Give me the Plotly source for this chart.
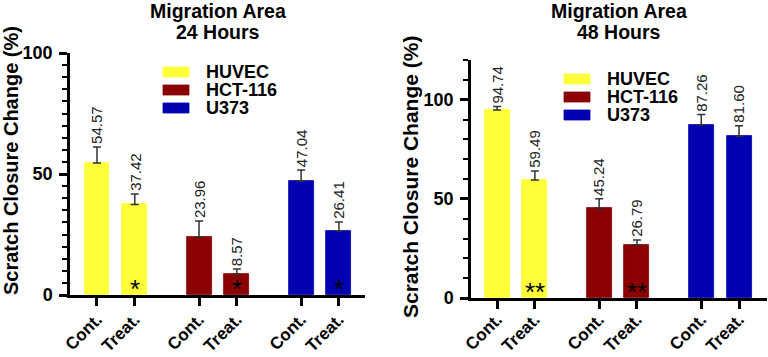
import plotly.graph_objects as go

# ---- data ----
tick_labels = ["Cont.", "Treat.", "Cont.", "Treat.", "Cont.", "Treat."]
cell_lines = ["HUVEC", "HCT-116", "U373"]
colors = ["#FFFF3A", "#8B0000", "#0000B0"]

vals_24 = [54.57, 37.42, 23.96, 8.57, 47.04, 26.41]
err_24 = [6.6, 4.3, 6.6, 2.2, 4.6, 3.8]
sig_24 = ["", "*", "", "*", "", "*"]

vals_48 = [94.74, 59.49, 45.24, 26.79, 87.26, 81.60]
err_48 = [1.8, 4.6, 4.8, 2.5, 5.2, 5.3]
sig_48 = ["", "**", "", "**", "", ""]

FONT = "Liberation Sans, Arial, sans-serif"
W, H = 768, 357
GROUP_GAP = 2.7
BAR_W = 0.66

positions = [g * GROUP_GAP + k for g in range(3) for k in range(2)]
bar_colors = [colors[g] for g in range(3) for k in range(2)]

fig = go.Figure()

panels = [
    dict(vals=vals_24, err=err_24, sig=sig_24, xa="x", ya="y", xdom=[70 / W, 365 / W],
         ydom=[(H - 295) / H, (H - 53) / H], yr=[0, 100], dtick=50, minor=5,
         xr=[-0.714, 7.09], title=["Migration Area", "24 Hours"], tx=218,
         ytx=11, yty=161, ytsize=20, leg_x=163, leg_y=[72, 90, 108], xstand=-3),
    dict(vals=vals_48, err=err_48, sig=sig_48, xa="x2", ya="y2", xdom=[471 / W, 767 / W],
         ydom=[(H - 298) / H, (H - 60) / H], yr=[0, 120], dtick=50, minor=10,
         xr=[-0.69, 7.14], title=["Migration Area", "48 Hours"], tx=619,
         ytx=410, yty=177, ytsize=21, leg_x=564, leg_y=[79, 97, 115], xstand=-6),
]

annotations = []
shapes = []
for i, p in enumerate(panels):
    fig.add_trace(go.Bar(
        x=positions, y=p["vals"], width=BAR_W, xaxis=p["xa"], yaxis=p["ya"],
        marker=dict(color=bar_colors, line=dict(color=bar_colors, width=0.8)),
        error_y=dict(type="data", symmetric=False, array=p["err"],
                     arrayminus=[0] * len(p["err"]), color="#333333",
                     thickness=1.5, width=4),
        showlegend=False, hoverinfo="skip",
    ))
    sfx = "" if i == 0 else "2"
    for xv, v, e, s in zip(positions, p["vals"], p["err"], p["sig"]):
        annotations.append(dict(
            x=xv, y=v + e, xref="x" + sfx, yref="y" + sfx, text=f"{v:.2f}",
            textangle=-90, showarrow=False, xanchor="center", yanchor="bottom",
            yshift=1, font=dict(family=FONT, size=15, color="#222222")))
        if s:
            annotations.append(dict(
                x=xv, y=0, xref="x" + sfx, yref="y" + sfx, text=s,
                showarrow=False, xanchor="center", yanchor="bottom", yshift=-11,
                font=dict(family=FONT, size=26, color="black")))
    # title (two lines)
    for line, cy in zip(p["title"], [11, 32]):
        annotations.append(dict(
            x=p["tx"] / W, y=1 - cy / H, xref="paper", yref="paper", text="<b>" + line + "</b>",
            showarrow=False, xanchor="center", yanchor="middle",
            font=dict(family=FONT, size=19.5, color="black")))
    # y title
    annotations.append(dict(
        x=p["ytx"] / W, y=1 - p["yty"] / H, xref="paper", yref="paper",
        text="<b>Scratch Closure Change (%)</b>", textangle=-90, showarrow=False,
        xanchor="center", yanchor="middle",
        font=dict(family=FONT, size=p["ytsize"], color="black")))
    # legend
    for name, col, ly in zip(cell_lines, colors, p["leg_y"]):
        shapes.append(dict(type="rect", xref="paper", yref="paper",
                           x0=p["leg_x"] / W, x1=(p["leg_x"] + 26) / W,
                           y0=1 - (ly + 5) / H, y1=1 - (ly - 5) / H,
                           fillcolor=col, line=dict(color=col, width=0.8)))
        annotations.append(dict(
            x=(p["leg_x"] + 41) / W, y=1 - ly / H, xref="paper", yref="paper",
            text="<b>" + name + "</b>", showarrow=False, xanchor="left", yanchor="middle",
            height=16, valign="middle",
            font=dict(family=FONT, size=18, color="black")))

    axis_common = dict(showline=True, linecolor="black", linewidth=2.5,
                       ticks="outside", tickcolor="black", tickwidth=2.5,
                       showgrid=False, zeroline=False, automargin=False)
    fig.layout["xaxis" + sfx] = dict(
        domain=p["xdom"], range=p["xr"], anchor="y" + sfx,
        tickvals=positions, ticktext=["<b>" + t + "</b>" for t in tick_labels],
        tickangle=-45, ticklen=8, ticklabelstandoff=p["xstand"],
        tickfont=dict(family=FONT, size=17, color="black"),
        **axis_common)
    fig.layout["yaxis" + sfx] = dict(
        domain=p["ydom"], range=p["yr"], anchor="x" + sfx,
        tickvals=list(range(0, p["yr"][1] + 1, p["dtick"])),
        ticktext=["<b>%d</b>" % v for v in range(0, p["yr"][1] + 1, p["dtick"])],
        ticklen=8, ticklabelstandoff=3, tickfont=dict(family=FONT, size=18, color="black"),
        minor=dict(dtick=p["minor"], ticks="outside", ticklen=5, tickwidth=1.5,
                   tickcolor="black", showgrid=False),
        **axis_common)

fig.update_layout(
    width=W, height=H, margin=dict(l=0, r=0, t=0, b=0, autoexpand=False),
    paper_bgcolor="white", plot_bgcolor="white",
    annotations=annotations, shapes=shapes, bargap=0,
)

fig.write_html("out.html", config={"displayModeBar": False},
               post_script="document.body.style.margin='0px';document.body.style.overflow='hidden';")
